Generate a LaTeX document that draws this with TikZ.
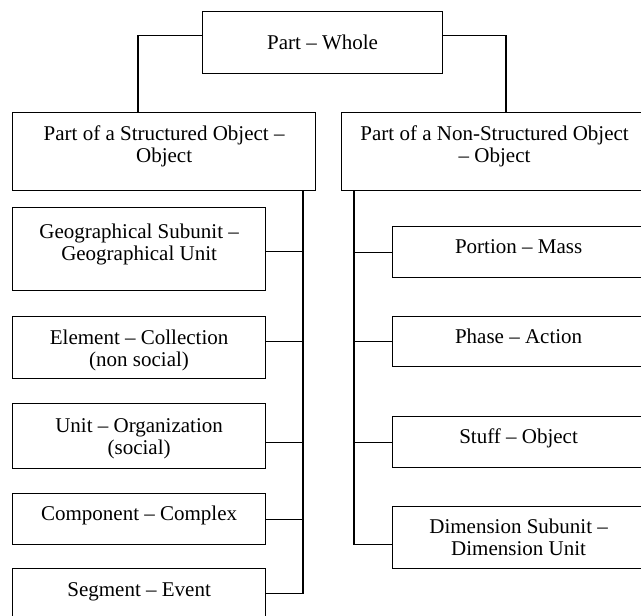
\documentclass[tikz,border=0pt]{standalone}
\usepackage{fontspec}
\setmainfont{Liberation Serif}
\begin{document}
\begin{tikzpicture}[x=1pt,y=-1pt,
  box/.style={draw, line width=1.2pt, inner sep=0pt, anchor=north west},
  txt/.style={inner sep=0pt, anchor=north, align=center, font=\fontsize{21}{22.5}\selectfont},
  link/.style={line width=1.2pt}]
\useasboundingbox (0,0) rectangle (641,616);
\clip (0,0) rectangle (641,616);
% boxes
\node[box, minimum width=240pt, minimum height=62pt] (top) at (202,11) {};
\node[box, minimum width=303pt, minimum height=78pt] (L) at (12,112) {};
\node[box, minimum width=306pt, minimum height=78pt] (R) at (341,112) {};
\node[box, minimum width=253pt, minimum height=83pt] (geo) at (12,207) {};
\node[box, minimum width=253pt, minimum height=62pt] (elem) at (12,316) {};
\node[box, minimum width=253pt, minimum height=65pt] (unit) at (12,403) {};
\node[box, minimum width=253pt, minimum height=51pt] (comp) at (12,493) {};
\node[box, minimum width=253pt, minimum height=52pt] (seg) at (12,568) {};
\node[box, minimum width=252pt, minimum height=51pt] (por) at (392,226) {};
\node[box, minimum width=252pt, minimum height=50pt] (pha) at (392,316) {};
\node[box, minimum width=252pt, minimum height=51pt] (stu) at (392,416) {};
\node[box, minimum width=252pt, minimum height=62pt] (dim) at (392,506) {};
% texts
\node[txt] (topT) at ([yshift=-22.25pt]top.north) {\strut Part – Whole};
\node[txt] (LT) at ([yshift=-12.5pt]L.north) {\strut Part of a Structured Object –\\Object};
\node[txt] (RT) at ([yshift=-12.5pt]R.north) {\strut Part of a Non-Structured Object\\– Object};
\node[txt] (geoT) at ([yshift=-15.25pt]geo.north) {\strut Geographical Subunit –\\Geographical Unit};
\node[txt] (elemT) at ([yshift=-12.25pt]elem.north) {\strut Element – Collection\\(non social)};
\node[txt] (unitT) at ([yshift=-13.25pt]unit.north) {\strut Unit – Organization\\(social)};
\node[txt] (compT) at ([yshift=-11.25pt]comp.north) {\strut Component – Complex};
\node[txt] (segT) at ([yshift=-12.25pt]seg.north) {\strut Segment – Event};
\node[txt] (porT) at ([yshift=-11.25pt]por.north) {\strut Portion – Mass};
\node[txt] (phaT) at ([yshift=-11.25pt]pha.north) {\strut Phase – Action};
\node[txt] (stuT) at ([yshift=-11.25pt]stu.north) {\strut Stuff – Object};
\node[txt] (dimT) at ([yshift=-11.25pt]dim.north) {\strut Dimension Subunit –\\Dimension Unit};
% connectors from top
\draw[link] ([yshift=7pt]top.west) -| ([xshift=126pt]L.north west);
\draw[link] ([yshift=7pt]top.east) -| ([xshift=165pt]R.north west);
% left trunk
\coordinate (ltop) at ([xshift=291pt]L.south west);
\coordinate (lbot) at ([yshift=1pt]seg.east -| ltop);
\draw[link] (ltop) -- (lbot);
\draw[link] ([yshift=-2.5pt]geo.east) -- ([yshift=-2.5pt]geo.east -| ltop);
\draw[link] ([yshift=6pt]elem.east) -- ([yshift=6pt]elem.east -| ltop);
\draw[link] ([yshift=-6.5pt]unit.east) -- ([yshift=-6.5pt]unit.east -| ltop);
\draw[link] (comp.east) -- (comp.east -| ltop);
\draw[link] ([yshift=1pt]seg.east) -- (lbot);
% right trunk
\coordinate (rtop) at ([xshift=13pt]R.south west);
\coordinate (rbot) at ([yshift=-7pt]dim.west -| rtop);
\draw[link] (rtop) -- (rbot);
\draw[link] (por.west) -- (por.west -| rtop);
\draw[link] (pha.west) -- (pha.west -| rtop);
\draw[link] (stu.west) -- (stu.west -| rtop);
\draw[link] ([yshift=-7pt]dim.west) -- (rbot);
\end{tikzpicture}
\end{document}
